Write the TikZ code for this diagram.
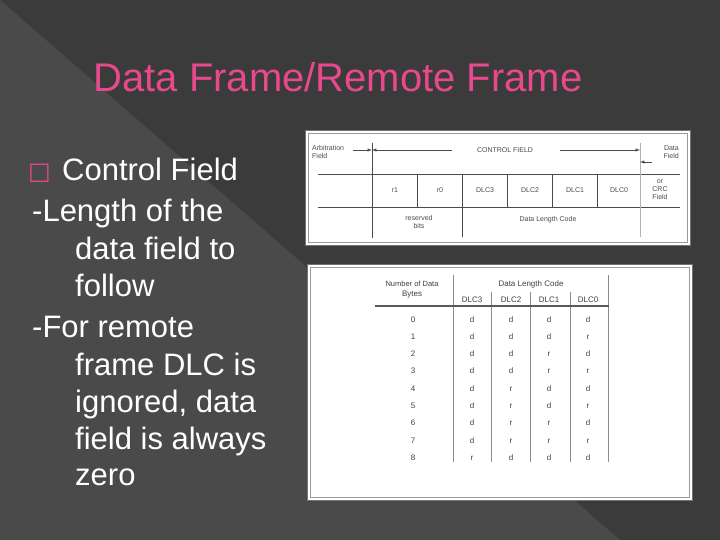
\documentclass[tikz,border=0pt]{standalone}
\usepackage{fontspec}
\setmainfont{Liberation Sans}
\newfontfamily\dejavu{DejaVu Sans}
\begin{document}
\begin{tikzpicture}[x=1pt,y=-1pt,
  body/.style={anchor=base west,text=white,font=\fontsize{31}{31}\selectfont,inner sep=0},
  tiny/.style={font=\fontsize{7}{8}\selectfont,text=black!70,inner sep=0,align=center},
  sm/.style={font=\fontsize{8}{9}\selectfont,text=black!75,inner sep=0,anchor=base},
  thin/.style={black!70,line width=0.6pt},
  arr/.style={black!70,line width=0.5pt,-latex}]
\useasboundingbox (0,0) rectangle (720,540);
\fill[black!77] (0,0) rectangle (720,540);
\fill[black!71] (0,0) -- (620,540) -- (0,540) -- cycle;
\node[text={rgb,255:red,232;green,72;blue,140},font=\fontsize{40}{40}\selectfont,anchor=base,inner sep=0] (title) at (338,92) {Data Frame/Remote Frame};
% body text
\node[body,text={rgb,255:red,232;green,72;blue,140},font=\dejavu\fontsize{24}{24}\selectfont] (bul) at (28,180) {□};
\node[body] (t1) at (62,181) {Control Field};
\node[body] (t2) at (32,222) {-Length of the};
\node[body] (t3) at (75,259) {data field to};
\node[body] (t4) at (75,296) {follow};
\node[body] (t5) at (32,337) {-For remote};
\node[body] (t6) at (75,375) {frame DLC is};
\node[body] (t7) at (75,412) {ignored, data};
\node[body] (t8) at (75,449) {field is always};
\node[body] (t9) at (75,485) {zero};
% table 1
\node[draw=black!55,line width=1pt,fill=white,minimum width=385,minimum height=115,anchor=north west,inner sep=0] (tb1) at (305,130) {};
\draw[black!40,line width=0.5pt] (308,133) rectangle (687,242);
\draw[thin] (372,143) -- (372,238);
\draw[thin] (318,174) -- (680,174);
\draw[thin] (318,207) -- (680,207);
\foreach \x in {417,507,552,597} \draw[thin] (\x,174) -- (\x,207);
\draw[thin] (462,174) -- (462,237);
\draw[black!30,line width=0.5pt] (640,143) -- (640,237);
\node[tiny,align=left,anchor=north west] (arb) at (312,145) {Arbitration\\Field};
\coordinate (a0) at (353,150); \coordinate (a1) at (372,150);
\draw[arr] (a0) -- (a1);
\coordinate (c0) at (452,150); \coordinate (c1) at (372,150);
\draw[arr] (c0) -- (c1);
\node[tiny] (cf) at (505,150) {CONTROL FIELD};
\coordinate (c2) at (560,150); \coordinate (c3) at (640,150);
\draw[arr] (c2) -- (c3);
\coordinate (d0) at (652,162); \coordinate (d1) at (640,162);
\draw[arr] (d0) -- (d1);
\node[tiny,align=right,anchor=north east] (df) at (679,145) {Data\\Field};
\foreach \x/\t in {395/r1,440/r0,485/DLC3,530/DLC2,575/DLC1,619/DLC0}
  \node[tiny] at (\x,190) {\t};
\node[tiny] (crc) at (660,190) {or\\CRC\\Field};
\node[tiny] (rb) at (419,222) {reserved\\bits};
\node[tiny] (dlc) at (548,220) {Data Length Code};
% table 2
\node[draw=black!55,line width=1pt,fill=white,minimum width=385,minimum height=236,anchor=north west,inner sep=0] (tb2) at (307,264) {};
\draw[black!40,line width=0.5pt] (310,267) rectangle (689,497);
\node[sm,font=\fontsize{7.5}{8}\selectfont] (nd) at (412,286) {Number of Data};
\node[sm] (by) at (412,296) {Bytes};
\node[sm] (dh) at (531,286) {Data Length Code};
\draw[black!45,line width=0.5pt] (453,275) -- (453,462);
\draw[black!45,line width=0.5pt] (608,275) -- (608,462);
\foreach \x in {491,530,570} \draw[black!45,line width=0.5pt] (\x,292) -- (\x,462);
\draw[black!65,line width=1.3pt] (375,306) -- (609,306);
\foreach \x/\t in {472/DLC3,511/DLC2,549/DLC1,588/DLC0} \node[sm] at (\x,302) {\t};
\foreach \n/\a/\b/\c/\d [count=\k from 0] in {0/d/d/d/d,1/d/d/d/r,2/d/d/r/d,3/d/d/r/r,4/d/r/d/d,5/d/r/d/r,6/d/r/r/d,7/d/r/r/r,8/r/d/d/d}{
  \pgfmathsetmacro\yy{322+17.3*\k}
  \node[sm] at (413,\yy) {\n};
  \node[sm] at (472,\yy) {\a};
  \node[sm] at (511,\yy) {\b};
  \node[sm] at (549,\yy) {\c};
  \node[sm] at (588,\yy) {\d};
}
\end{tikzpicture}
\end{document}
